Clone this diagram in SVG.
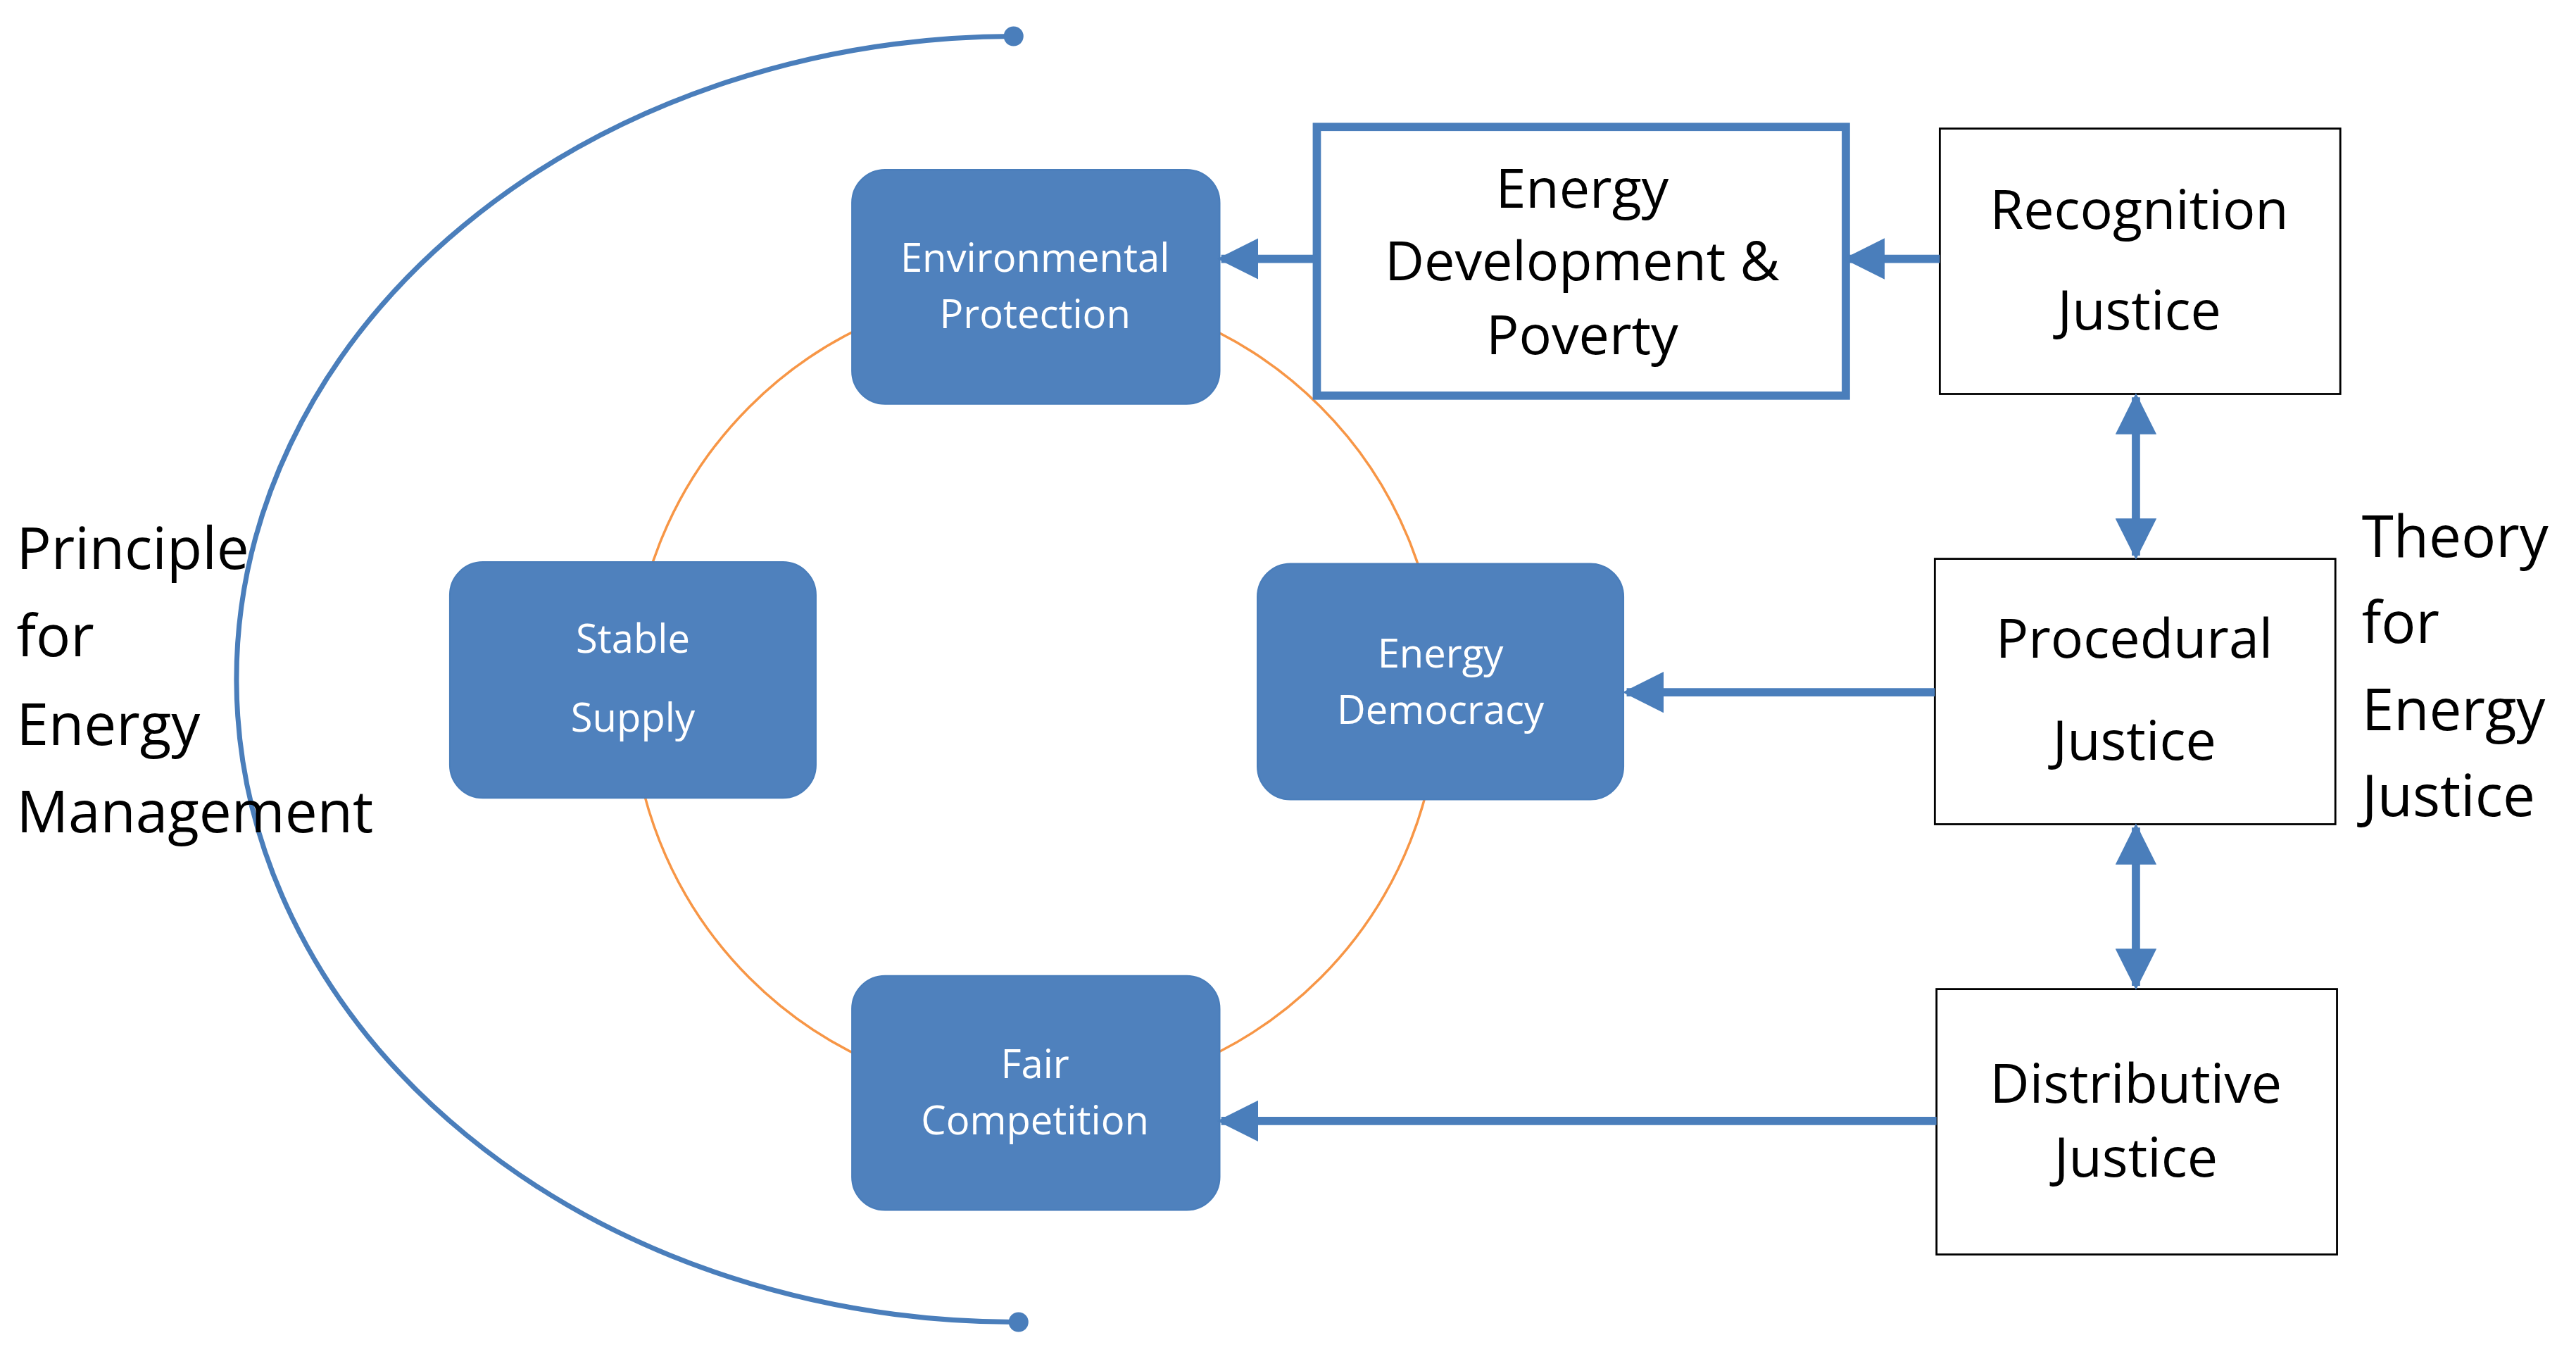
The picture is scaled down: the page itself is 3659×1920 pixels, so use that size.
<svg xmlns="http://www.w3.org/2000/svg" width="3659" height="1920" viewBox="0 0 3659 1920">
<style>
.bx{fill:#4f81bd;stroke:#4a7ebb;stroke-width:1}
.wt{fill:#fff;font-family:"Open Sans",sans-serif;font-size:24px;text-anchor:middle}
.wb{fill:#fff;stroke:#000;stroke-width:1.2}
.bt{fill:#000;font-family:"Open Sans",sans-serif;font-size:33px;text-anchor:middle}
.lb{fill:#000;font-family:"Open Sans",sans-serif;font-size:35px}
.ar{stroke:#4a7ebb;stroke-width:5;fill:none}
</style>
<defs>
<marker id="ah" markerWidth="5" markerHeight="5" refX="4.5" refY="2.5" orient="auto-start-reverse" markerUnits="strokeWidth"><path d="M0,0L5,2.5L0,5z" fill="#4a7ebb"/></marker>
</defs>
<rect width="3659" height="1920" fill="#fff"/>
<g transform="scale(2.341)">
<g id="frames">
<path d="M615,22 A473,390 0 0 0 618,802" fill="none" stroke="#4a7ebb" stroke-width="3"/>
<circle cx="615" cy="22" r="6" fill="#4a7ebb"/>
<circle cx="618" cy="802" r="6" fill="#4a7ebb"/>
<circle cx="628" cy="420" r="245" fill="none" stroke="#f79646" stroke-width="1.5"/>
</g>
<g id="env"><rect class="bx" x="517" y="103" width="223" height="142" rx="20"/><text class="wt" x="628" y="165">Environmental</text><text class="wt" x="628" y="199">Protection</text></g>
<g id="stable"><rect class="bx" x="273" y="341" width="222" height="143" rx="20"/><text class="wt" x="384" y="396">Stable</text><text class="wt" x="384" y="444">Supply</text></g>
<g id="democracy"><rect class="bx" x="763" y="342" width="222" height="143" rx="20"/><text class="wt" x="874" y="405">Energy</text><text class="wt" x="874" y="439">Democracy</text></g>
<g id="fair"><rect class="bx" x="517" y="592" width="223" height="142" rx="20"/><text class="wt" x="628" y="654">Fair</text><text class="wt" x="628" y="688">Competition</text></g>
<g id="edp"><rect x="799" y="77" width="321" height="163" fill="#fff" stroke="#4a7ebb" stroke-width="5"/><text class="bt" x="960" y="126">Energy</text><text class="bt" x="960" y="170">Development &amp;</text><text class="bt" x="960" y="215">Poverty</text></g>
<g id="recognition"><rect class="wb" x="1177" y="78" width="243" height="161"/><text class="bt" x="1298" y="139">Recognition</text><text class="bt" x="1298" y="200">Justice</text></g>
<g id="procedural"><rect class="wb" x="1174" y="339" width="243" height="161"/><text class="bt" x="1295" y="399">Procedural</text><text class="bt" x="1295" y="461">Justice</text></g>
<g id="distributive"><rect class="wb" x="1175" y="600" width="243" height="161"/><text class="bt" x="1296" y="669">Distributive</text><text class="bt" x="1296" y="714">Justice</text></g>
<g id="labels">
<text class="lb" x="10" y="345">Principle</text><text class="lb" x="10" y="398">for</text><text class="lb" x="10" y="452">Energy</text><text class="lb" x="10" y="505">Management</text>
<text class="lb" x="1433" y="338">Theory</text><text class="lb" x="1433" y="390">for</text><text class="lb" x="1433" y="443">Energy</text><text class="lb" x="1433" y="495">Justice</text>
</g>
<g id="connectors">
<line class="ar" x1="799" y1="157" x2="741" y2="157" marker-end="url(#ah)"/>
<line class="ar" x1="1177" y1="157" x2="1121" y2="157" marker-end="url(#ah)"/>
<line class="ar" x1="1174" y1="420" x2="987" y2="420" marker-end="url(#ah)"/>
<line class="ar" x1="1175" y1="680" x2="741" y2="680" marker-end="url(#ah)"/>
<line class="ar" x1="1296" y1="241" x2="1296" y2="337" marker-start="url(#ah)" marker-end="url(#ah)"/>
<line class="ar" x1="1296" y1="502" x2="1296" y2="598" marker-start="url(#ah)" marker-end="url(#ah)"/>
</g>
</g>
</svg>
